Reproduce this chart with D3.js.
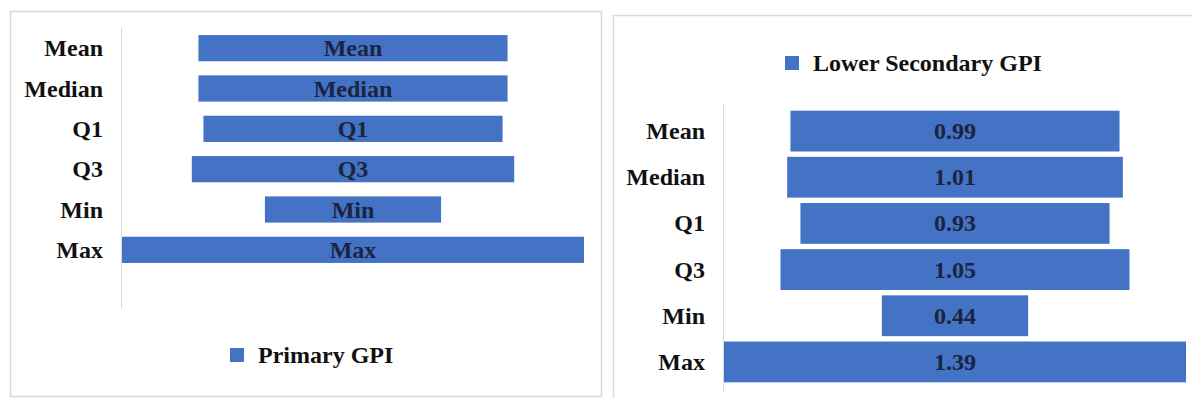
<!DOCTYPE html>
<html>
<head>
<meta charset="utf-8">
<script src="https://cdn.jsdelivr.net/npm/d3@7"></script>
<style>
  body { margin: 0; background: #fff; }
  svg { display: block; }
  text { font-family: "Liberation Serif", "Times New Roman", serif; font-weight: bold; }
</style>
</head>
<body>
<svg id="chart" width="1192" height="398"></svg>
<script>
/* chart data */
const categories = ["Mean", "Median", "Q1", "Q3", "Min", "Max"];
const primaryValues = [0.93, 0.93, 0.90, 0.97, 0.53, 1.39];
const lowerSecValues = [0.99, 1.01, 0.93, 1.05, 0.44, 1.39];
const lowerSecLabels = ["0.99", "1.01", "0.93", "1.05", "0.44", "1.39"];

const barColor = "#4472c4";
const svg = d3.select("#chart");

/**
 * Draws one centred-bar panel
 */
function drawPanel(p) {
    const g = svg.append("g");

    /* panel frame */
    g.append("rect")
        .attr("x", p.frame[0] + 0.5)
        .attr("y", p.frame[1] + 0.5)
        .attr("width", p.frame[2])
        .attr("height", p.frame[3])
        .attr("fill", "#fff")
        .attr("stroke", "#d9d9d9")
        .attr("stroke-width", 1.5);

    var y = d3.scaleBand()
        .domain(categories)
        .range(p.yRange)
        .paddingInner(p.pad)
        .paddingOuter(p.pad / 2);

    var w = d3.scaleLinear()
        .domain([0, d3.max(p.values)])
        .range([0, p.xRange[1] - p.xRange[0]]);

    const cx = (p.xRange[0] + p.xRange[1]) / 2;

    /* vertical axis line */
    g.append("line")
        .attr("x1", p.xRange[0] - 0.5).attr("x2", p.xRange[0] - 0.5)
        .attr("y1", p.axisY[0]).attr("y2", p.axisY[1])
        .attr("stroke", "#d9d9d9")
        .attr("stroke-width", 1);

    /* category labels */
    g.selectAll(".cat")
        .data(categories)
        .enter()
        .append("text")
        .attr("class", "cat")
        .attr("text-anchor", "end")
        .attr("x", p.labelX)
        .attr("y", d => y(d) + y.bandwidth() / 2 + 8)
        .style("font-size", "24px")
        .style("fill", "#111")
        .text(d => d);

    /* bars */
    g.selectAll(".bar")
        .data(p.values)
        .enter()
        .append("rect")
        .attr("class", "bar")
        .attr("x", d => cx - w(d) / 2)
        .attr("width", d => w(d))
        .attr("y", (d, i) => y(categories[i]))
        .attr("height", y.bandwidth())
        .style("fill", barColor);

    /* bar labels */
    g.selectAll(".blabel")
        .data(p.barLabels)
        .enter()
        .append("text")
        .attr("class", "blabel")
        .attr("text-anchor", "middle")
        .attr("x", cx)
        .attr("y", (d, i) => y(categories[i]) + y.bandwidth() / 2 + 8)
        .style("font-size", "24px")
        .style("fill", "#1b2440")
        .text(d => d);

    /* legend */
    g.append("rect")
        .attr("x", p.legend[0])
        .attr("y", p.legend[1] - 7)
        .attr("width", 14)
        .attr("height", 14)
        .style("fill", barColor);

    g.append("text")
        .attr("x", p.legend[0] + 28)
        .attr("y", p.legend[1] + 8)
        .style("font-size", "24px")
        .style("fill", "#111")
        .text(p.legendText);
}

drawPanel({
    frame: [10, 11, 591, 385],
    values: primaryValues,
    barLabels: categories,
    xRange: [122, 584],
    yRange: [28, 270],
    pad: 0.35,
    axisY: [28, 308],
    labelX: 103,
    legend: [230, 355],
    legendText: "Primary GPI"
});

drawPanel({
    frame: [613, 15, 600, 400],
    values: lowerSecValues,
    barLabels: lowerSecLabels,
    xRange: [724, 1186],
    yRange: [108, 385],
    pad: 0.116,
    axisY: [103, 392],
    labelX: 705,
    legend: [785, 63],
    legendText: "Lower Secondary GPI"
});
</script>
</body>
</html>
